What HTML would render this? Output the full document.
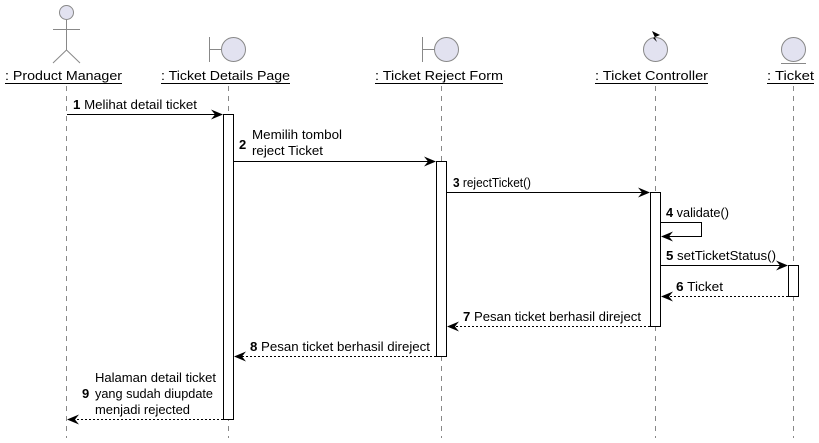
<!DOCTYPE html>
<html><head><style>body{margin:0;background:#fff}svg{display:block}text{font-family:"Liberation Sans",sans-serif;font-size:13px;fill:#000}</style></head><body>
<svg width="819" height="443" viewBox="0 0 819 443" xmlns="http://www.w3.org/2000/svg">
<defs>
<marker id="a" viewBox="0 0 12 10" refX="11" refY="5" markerWidth="12" markerHeight="10" markerUnits="userSpaceOnUse" orient="auto"><path d="M0,0 L12,5 L0,10 L4,5 Z" fill="#000"/></marker>
</defs>
<g stroke="#888" stroke-dasharray="5,5" stroke-width="1">
<line x1="66.5" y1="86" x2="66.5" y2="438"/>
<line x1="228.5" y1="86" x2="228.5" y2="438"/>
<line x1="441.5" y1="86" x2="441.5" y2="438"/>
<line x1="655.5" y1="86" x2="655.5" y2="438"/>
<line x1="793.5" y1="86" x2="793.5" y2="438"/>
</g>
<g stroke="#888" fill="none">
<circle cx="66.5" cy="12.5" r="7" fill="#e2e2f0"/>
<line x1="66.5" y1="20" x2="66.5" y2="50"/>
<line x1="53" y1="29.5" x2="80" y2="29.5"/>
<line x1="66.5" y1="50" x2="53" y2="63"/>
<line x1="66.5" y1="50" x2="80" y2="63"/>
</g>
<g stroke="#888" fill="#e2e2f0">
<line x1="209.5" y1="37" x2="209.5" y2="62"/><line x1="209.5" y1="49.5" x2="221" y2="49.5"/>
<circle cx="233.5" cy="49.5" r="12"/>
<line x1="422.5" y1="37" x2="422.5" y2="62"/><line x1="422.5" y1="49.5" x2="434" y2="49.5"/>
<circle cx="446.5" cy="49.5" r="12"/>
<circle cx="655.5" cy="49.5" r="12"/>
<circle cx="793.5" cy="49.5" r="12"/>
<line x1="781" y1="63.5" x2="806" y2="63.5"/>
</g>
<path d="M652,31 L660,35 L653,38 L657,42 Z" fill="#000"/>
<g style="font-size:14.5px" lengthAdjust="spacingAndGlyphs">
<text x="5" y="80" textLength="117" lengthAdjust="spacingAndGlyphs">: Product Manager</text>
<text x="161" y="80" textLength="129" lengthAdjust="spacingAndGlyphs">: Ticket Details Page</text>
<text x="375" y="80" textLength="128" lengthAdjust="spacingAndGlyphs">: Ticket Reject Form</text>
<text x="595" y="80" textLength="113" lengthAdjust="spacingAndGlyphs">: Ticket Controller</text>
<text x="767" y="80" textLength="47" lengthAdjust="spacingAndGlyphs">: Ticket</text>
</g>
<g stroke="#000">
<line x1="5" y1="83.5" x2="122" y2="83.5"/>
<line x1="161" y1="83.5" x2="290" y2="83.5"/>
<line x1="375" y1="83.5" x2="503" y2="83.5"/>
<line x1="595" y1="83.5" x2="708" y2="83.5"/>
<line x1="767" y1="83.5" x2="814" y2="83.5"/>
</g>
<g fill="#fff" stroke="#000">
<rect x="223.5" y="114.5" width="10" height="305"/>
<rect x="436.5" y="161.5" width="10" height="195"/>
<rect x="650.5" y="192.5" width="10" height="134"/>
<rect x="788.5" y="265.5" width="10" height="31"/>
</g>
<g stroke="#000" fill="none">
<line x1="67" y1="114.5" x2="222" y2="114.5" marker-end="url(#a)"/>
<line x1="234" y1="161.5" x2="435" y2="161.5" marker-end="url(#a)"/>
<line x1="447" y1="192.5" x2="649" y2="192.5" marker-end="url(#a)"/>
<polyline points="661,222.5 701.5,222.5 701.5,236.5 662,236.5" marker-end="url(#a)"/>
<line x1="661" y1="265.5" x2="787" y2="265.5" marker-end="url(#a)"/>
<g stroke-dasharray="2,2">
<line x1="788" y1="296.5" x2="662" y2="296.5" marker-end="url(#a)"/>
<line x1="650" y1="326.5" x2="448" y2="326.5" marker-end="url(#a)"/>
<line x1="436" y1="356.5" x2="235" y2="356.5" marker-end="url(#a)"/>
<line x1="223" y1="419.5" x2="68" y2="419.5" marker-end="url(#a)"/>
</g>
</g>
<text x="73" y="109" textLength="124" lengthAdjust="spacingAndGlyphs"><tspan font-weight="bold">1</tspan> Melihat detail ticket</text>
<text x="252" y="139" textLength="90" lengthAdjust="spacingAndGlyphs">Memilih tombol</text>
<text x="252" y="155" textLength="71" lengthAdjust="spacingAndGlyphs">reject Ticket</text>
<text x="239" y="149" font-weight="bold">2</text>
<text x="453" y="187" textLength="78" lengthAdjust="spacingAndGlyphs"><tspan font-weight="bold">3</tspan> rejectTicket()</text>
<text x="666" y="217" textLength="63" lengthAdjust="spacingAndGlyphs"><tspan font-weight="bold">4</tspan> validate()</text>
<text x="666" y="260" textLength="110" lengthAdjust="spacingAndGlyphs"><tspan font-weight="bold">5</tspan> setTicketStatus()</text>
<text x="676" y="291" textLength="47" lengthAdjust="spacingAndGlyphs"><tspan font-weight="bold">6</tspan> Ticket</text>
<text x="463" y="321" textLength="178" lengthAdjust="spacingAndGlyphs"><tspan font-weight="bold">7</tspan> Pesan ticket berhasil direject</text>
<text x="250" y="351" textLength="180" lengthAdjust="spacingAndGlyphs"><tspan font-weight="bold">8</tspan> Pesan ticket berhasil direject</text>
<text x="95" y="382" textLength="121" lengthAdjust="spacingAndGlyphs">Halaman detail ticket</text>
<text x="95" y="398" textLength="118" lengthAdjust="spacingAndGlyphs">yang sudah diupdate</text>
<text x="95" y="414" textLength="95" lengthAdjust="spacingAndGlyphs">menjadi rejected</text>
<text x="82" y="398" font-weight="bold">9</text>
</svg>
</body></html>
